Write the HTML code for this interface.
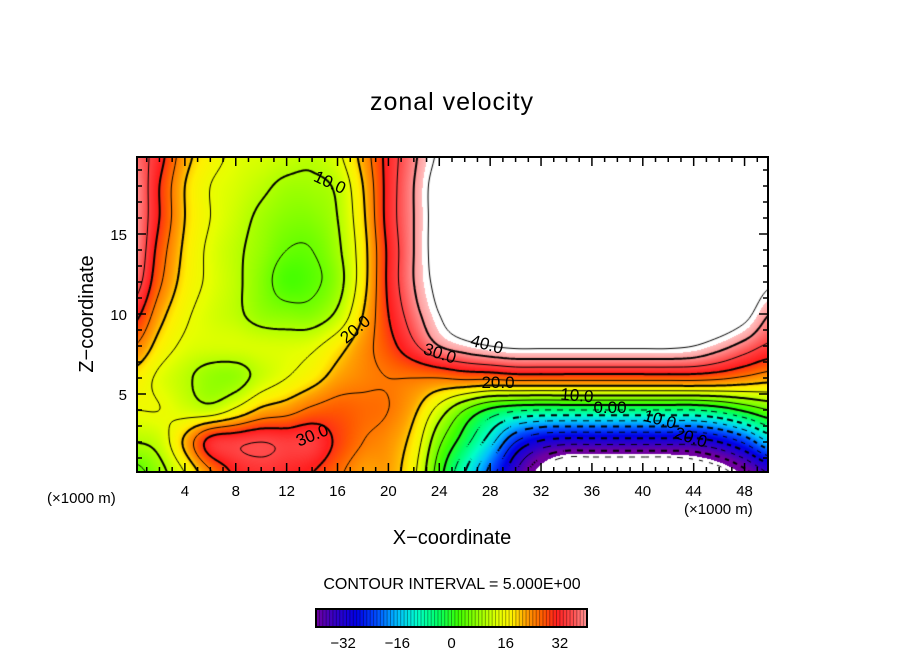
<!DOCTYPE html>
<html><head><meta charset="utf-8">
<style>
body{margin:0;background:#fff;width:904px;height:654px;overflow:hidden;position:relative;font-family:"Liberation Sans",sans-serif;}
#plot{position:absolute;left:137px;top:157px;}
svg{position:absolute;left:0;top:0;}
</style></head><body>
<canvas id="plot" width="631" height="315"></canvas>
<svg id="ov" width="904" height="654"></svg>
<script>
// x grid (km ×1000 m), z grid (km)
const xCoords=[0,2,4,6,8,10,12,14,16,18,20,22,24,26,28,30,32,34,36,38,40,42,44,46,48,50];
const zCoords=[0,2,4,6,8,10,12,14,16,18,20];
const uZ00=[3,8,15,24,31,33,32,30,26,22,22,16,2,-10,-22,-35,-46,-55,-55,-55,-55,-55,-52,-48,-42,-35];
const uZ02=[10,12,21,32,34,35,34,34,29,25,23,18,6,-3,-13,-25,-31,-33,-33,-33,-33,-33,-33,-30,-24,-15];
const uZ04=[15,15,13,12,16,21,23,26,27,26,25,21,13,5,-1,-4,-5,-5,-5,-5,-5,-5,-5,-3,1,5];
const uZ06=[18,14,11,8,8,12,15,18,22,24,25,25,25,26,26,27,27,27,27,27,27,27,27,26,24,22];
const uZ08=[25,18,14,13,13,13,13,14,18,23,28,34,40,43,45,46,46,46,46,46,46,46,45,42,38,34];
const uZ10=[32,22,16,13,11,8,7,7,11,20,30,38,45,50,50,50,50,50,50,50,50,50,50,50,47,40];
const uZ12=[38,26,18,14,11,7,3,4,8,18,31,40,47,50,50,50,50,50,50,50,50,50,50,50,50,46];
const uZ14=[40,28,19,14,11,8,5,5,9,18,31,40,48,50,50,50,50,50,50,50,50,50,50,50,50,50];
const uZ16=[40,30,20,15,12,9,7,7,10,19,32,40,48,50,50,50,50,50,50,50,50,50,50,50,50,50];
const uZ18=[40,30,20,15,13,11,9,9,11,20,32,40,48,50,50,50,50,50,50,50,50,50,50,50,50,50];
const uZ20=[38,32,22,17,14,13,12,11,14,22,32,39,46,50,50,50,50,50,50,50,50,50,50,50,50,50];
const rows=[uZ00,uZ02,uZ04,uZ06,uZ08,uZ10,uZ12,uZ14,uZ16,uZ18,uZ20];
const xTicks=[4,8,12,16,20,24,28,32,36,40,44,48];
const zTicks=[5,10,15];
const cbTicks=[-32,-16,0,16,32];
const levels=[];for(let l=-45;l<=45;l+=5)levels.push(l);

const X=x=>134+x*12.72, Z=z=>474-z*16;
const invX=p=>(p-134)/12.72, invZ=p=>(474-p)/16;
const stops=[[-40,112,0,160],[-34,48,0,200],[-28,0,0,230],[-22,0,80,255],[-16,0,190,255],[-10,0,255,200],[-4,0,255,100],[2,60,255,0],[8,150,255,0],[14,230,255,0],[18,255,240,0],[22,255,160,0],[27,255,90,0],[31,255,30,30],[36,255,80,80],[40,255,150,150],[43,255,190,190]];
function cmap(v){
 if(v>43||v<-43)return[255,255,255];
 if(v<=stops[0][0])return stops[0].slice(1);
 for(let i=1;i<stops.length;i++){if(v<=stops[i][0]){const a=stops[i-1],b=stops[i],t=(v-a[0])/(b[0]-a[0]);return[a[1]+(b[1]-a[1])*t,a[2]+(b[2]-a[2])*t,a[3]+(b[3]-a[3])*t];}}
 return stops[stops.length-1].slice(1);
}
function cr(p0,p1,p2,p3,t){return 0.5*((2*p1)+(-p0+p2)*t+(2*p0-5*p1+4*p2-p3)*t*t+(-p0+3*p1-3*p2+p3)*t*t*t);}
function G(r,c){r=Math.max(0,Math.min(rows.length-1,r));c=Math.max(0,Math.min(xCoords.length-1,c));return rows[r][c];}
function field(x,z){
 const fc=x/2,fr=z/2;const c=Math.floor(fc),r=Math.floor(fr);const tc=fc-c,tr=fr-r;
 const v=[];for(let k=-1;k<=2;k++)v.push(cr(G(r+k,c-1),G(r+k,c),G(r+k,c+1),G(r+k,c+2),tc));
 return cr(v[0],v[1],v[2],v[3],tr);
}
const cv=document.getElementById('plot'),ctx=cv.getContext('2d');
const W=631,H=315,img=ctx.createImageData(W,H);
for(let j=0;j<H;j++)for(let i=0;i<W;i++){const v=field(invX(137+i+0.5),invZ(157+j+0.5));const c=cmap(v);const k=(j*W+i)*4;img.data[k]=c[0];img.data[k+1]=c[1];img.data[k+2]=c[2];img.data[k+3]=255;}
ctx.putImageData(img,0,0);
const S=2,NX=Math.ceil(W/S)+1,NY=Math.ceil(H/S)+1;const F=[];
for(let j=0;j<NY;j++){F.push([]);for(let i=0;i<NX;i++)F[j].push(field(invX(137+i*S),invZ(157+j*S)));}
levels.forEach(L=>{
 ctx.beginPath();
 ctx.lineWidth=(L%10===0)?2:1;ctx.strokeStyle='#000';
 for(let j=0;j<NY-1;j++)for(let i=0;i<NX-1;i++){
  if(L<0&&(Math.floor((i+j)/3)%2===1))continue;
  const a=F[j][i],b=F[j][i+1],c=F[j+1][i+1],d=F[j+1][i];
  const pts=[];
  const e=(v1,v2,x1,y1,x2,y2)=>{if((v1<L)!==(v2<L)){const t=(L-v1)/(v2-v1);pts.push([x1+(x2-x1)*t,y1+(y2-y1)*t]);}};
  const x0=i*S,y0=j*S;
  e(a,b,x0,y0,x0+S,y0);e(b,c,x0+S,y0,x0+S,y0+S);e(c,d,x0+S,y0+S,x0,y0+S);e(d,a,x0,y0+S,x0,y0);
  for(let k=0;k+1<pts.length;k+=2){ctx.moveTo(pts[k][0],pts[k][1]);ctx.lineTo(pts[k+1][0],pts[k+1][1]);}
 }
 ctx.stroke();
});
const NS='http://www.w3.org/2000/svg',svg=document.getElementById('ov');
function el(t,at,txt){const e=document.createElementNS(NS,t);for(const k in at)e.setAttribute(k,at[k]);if(txt!==undefined)e.textContent=txt;svg.appendChild(e);return e;}
const frame=el('rect',{x:137,y:157,width:631,height:315,fill:'none',stroke:'#000','stroke-width':2});


for(let x=1;x<50;x++){const maj=x%4===0,len=maj?9:5;
 el('line',{x1:X(x),x2:X(x),y1:472,y2:472-len,stroke:'#000','stroke-width':1.5});
 el('line',{x1:X(x),x2:X(x),y1:157,y2:157+len,stroke:'#000','stroke-width':1.5});}
for(let z=1;z<20;z++){const maj=z%5===0,len=maj?9:5;
 el('line',{x1:137,x2:137+len,y1:Z(z),y2:Z(z),stroke:'#000','stroke-width':1.5});
 el('line',{x1:768,x2:768-len,y1:Z(z),y2:Z(z),stroke:'#000','stroke-width':1.5});}
xTicks.forEach(x=>{const t=el('text',{x:X(x),y:496,'font-size':15,'text-anchor':'middle'},String(x));
 
 });
zTicks.forEach(z=>{const t=el('text',{x:127,y:Z(z)+6,'font-size':15,'text-anchor':'end'},String(z));
 
 });
[[330,188,25,'10.0'],[355,335,-40,'20.0'],[440,359,18,'30.0'],[487,350,15,'40.0'],[498,388,0,'20.0'],[577,401,5,'10.0'],[610,413,0,'0.00'],[660,425,15,'10.0'],[691,443,18,'20.0'],[312,441,-22,'30.0']].forEach(p=>{
 const t=el('text',{x:p[0],y:p[1],'font-size':17,'text-anchor':'middle',transform:`rotate(${p[2]} ${p[0]} ${p[1]-6})`},p[3]);
 
 });
const cbL=316,cbR=587,cbMin=-40,cbMax=40,CB=v=>cbL+(v-cbMin)/(cbMax-cbMin)*(cbR-cbL);
for(let v=-40;v<40;v++){const c=cmap(v+0.5);
 el('rect',{x:CB(v),y:609,width:CB(v+1)-CB(v)+0.3,height:18,fill:`rgb(${c.map(Math.round).join(',')})`});
 el('line',{x1:CB(v),x2:CB(v),y1:609,y2:627,stroke:'rgba(0,0,0,0.35)','stroke-width':1});}
const cbf=el('rect',{x:cbL,y:609,width:cbR-cbL,height:18,fill:'none',stroke:'#000','stroke-width':2});


cbTicks.forEach(v=>{const t=el('text',{x:CB(v),y:648,'font-size':15,'text-anchor':'middle'},v<0?'\u2212'+(-v):String(v));
 
 });
</script>
<div style="position:absolute;left:0;width:904px;top:88px;text-align:center;font-size:25px;letter-spacing:1px;">zonal velocity</div>
<div style="position:absolute;left:-2px;top:302px;width:180px;text-align:center;font-size:20px;transform:rotate(-90deg);transform-origin:90px 12px;">Z−coordinate</div>
<div style="position:absolute;left:0;width:904px;top:527px;text-align:center;font-size:20px;">X−coordinate</div>
<div style="position:absolute;left:47px;top:490px;font-size:15px;">(×1000 m)</div>
<div style="position:absolute;left:684px;top:501px;font-size:15px;">(×1000 m)</div>
<div style="position:absolute;left:0;width:904px;top:576px;text-align:center;font-size:16px;">CONTOUR INTERVAL = 5.000E+00</div>
</body></html>
